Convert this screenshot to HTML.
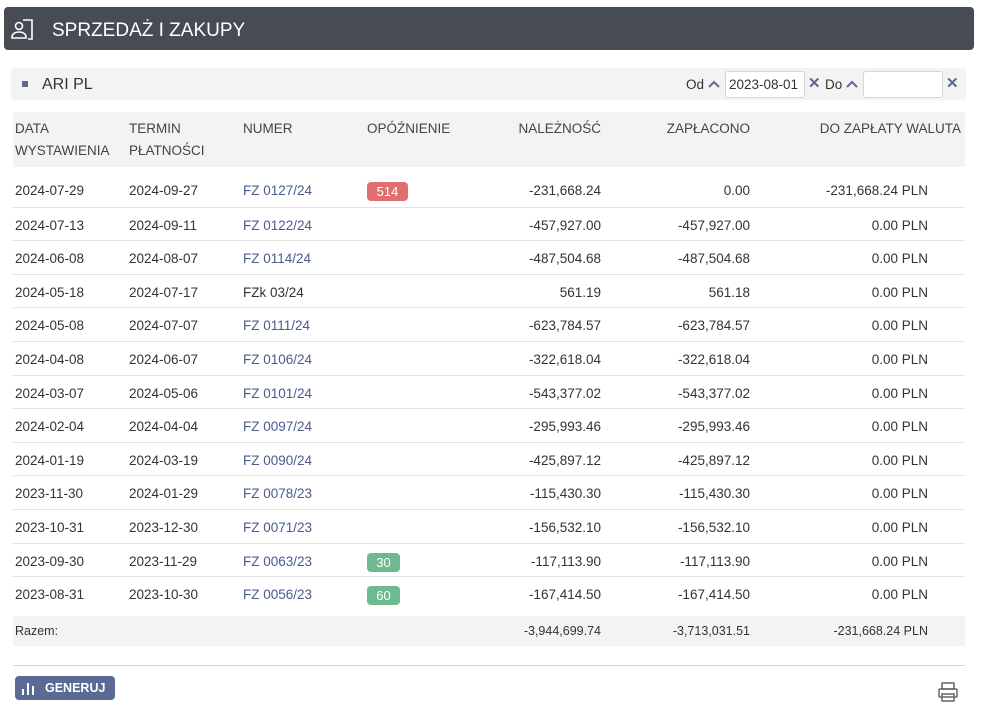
<!DOCTYPE html>
<html><head><meta charset="utf-8"><style>
*{box-sizing:border-box;margin:0;padding:0}
body{width:981px;height:714px;background:#fff;font-family:"Liberation Sans",sans-serif;color:#333;font-size:13.5px;position:relative;overflow:hidden}
.a{position:absolute;white-space:nowrap}
.hdr{left:4px;top:7px;width:970px;height:43px;background:#474b53;border-radius:4px}
.sub{left:11px;top:68px;width:955px;height:32px;background:#f3f3f3;border-radius:4px}
.th{left:13px;top:112px;width:952px;height:55px;background:#f3f3f3}
.row{left:13px;width:952px;height:34px;border-top:1px solid #e3e3e3}
.c{position:absolute;top:1px;line-height:33px}
.r{text-align:right}
.lnk{color:#4a5b8c}
.b{position:absolute;top:9px;height:19px;width:33px;border-radius:4px;color:#fff;text-align:center;line-height:19px;font-size:13px}
.hd{color:#444;font-size:13.5px;line-height:22px}
</style></head><body>
<div class="a hdr"></div>
<svg class="a" style="left:10px;top:18px" width="26" height="24" viewBox="0 0 26 24" fill="none" stroke="#fff" stroke-width="1.6"><circle cx="9" cy="8" r="3.5"/><path d="M2 20v-1c0-3 3-5 7-5s7 2 7 5v1z"/><path d="M13 2h9v19h-4"/></svg>
<div class="a" style="left:52px;top:19px;color:#fff;font-size:19px;line-height:24px">SPRZEDAŻ I ZAKUPY</div>
<div class="a sub"></div>
<div class="a" style="left:22px;top:81px;width:6px;height:6px;background:#5b6a94"></div>
<div class="a" style="left:42px;top:75px;font-size:16px;line-height:20px;color:#333">ARI PL</div>
<div class="a" style="left:686px;top:76px;font-size:13.5px;line-height:18px">Od</div>
<svg class="a" style="left:708px;top:80px" width="12" height="8"><path d="M1 7l5-5 5 5" fill="none" stroke="#5b6a94" stroke-width="2"/></svg>
<div class="a" style="left:725px;top:71px;width:80px;height:27px;border:1px solid #d5d5d5;border-radius:3px;background:#fff;font-size:13.5px;line-height:25px;padding-left:3px">2023-08-01</div>
<div class="a" style="left:808px;top:75px;font-size:15px;line-height:18px;color:#5b6a94;font-weight:bold">✕</div>
<div class="a" style="left:825px;top:76px;font-size:13.5px;line-height:18px">Do</div>
<svg class="a" style="left:846px;top:80px" width="12" height="8"><path d="M1 7l5-5 5 5" fill="none" stroke="#5b6a94" stroke-width="2"/></svg>
<div class="a" style="left:863px;top:71px;width:80px;height:27px;border:1px solid #d5d5d5;border-radius:3px;background:#fff"></div>
<div class="a" style="left:946px;top:75px;font-size:15px;line-height:18px;color:#5b6a94;font-weight:bold">✕</div>
<div class="a th"></div>
<div class="a hd" style="left:15px;top:118px">DATA<br>WYSTAWIENIA</div>
<div class="a hd" style="left:129px;top:118px">TERMIN<br>PŁATNOŚCI</div>
<div class="a hd" style="left:243px;top:118px">NUMER</div>
<div class="a hd" style="left:367px;top:118px">OPÓŹNIENIE</div>
<div class="a hd" style="left:501px;top:118px;width:100px;text-align:right">NALEŻNOŚĆ</div>
<div class="a hd" style="left:650px;top:118px;width:100px;text-align:right">ZAPŁACONO</div>
<div class="a hd" style="left:761px;top:118px;width:200px;text-align:right">DO ZAPŁATY WALUTA</div>
<div id="rows"></div>
<script>
var d=[["2024-07-29","2024-09-27","FZ 0127/24","514","-231,668.24","0.00","-231,668.24 PLN"],
["2024-07-13","2024-09-11","FZ 0122/24","","-457,927.00","-457,927.00","0.00 PLN"],
["2024-06-08","2024-08-07","FZ 0114/24","","-487,504.68","-487,504.68","0.00 PLN"],
["2024-05-18","2024-07-17","FZk 03/24","","561.19","561.18","0.00 PLN"],
["2024-05-08","2024-07-07","FZ 0111/24","","-623,784.57","-623,784.57","0.00 PLN"],
["2024-04-08","2024-06-07","FZ 0106/24","","-322,618.04","-322,618.04","0.00 PLN"],
["2024-03-07","2024-05-06","FZ 0101/24","","-543,377.02","-543,377.02","0.00 PLN"],
["2024-02-04","2024-04-04","FZ 0097/24","","-295,993.46","-295,993.46","0.00 PLN"],
["2024-01-19","2024-03-19","FZ 0090/24","","-425,897.12","-425,897.12","0.00 PLN"],
["2023-11-30","2024-01-29","FZ 0078/23","","-115,430.30","-115,430.30","0.00 PLN"],
["2023-10-31","2023-12-30","FZ 0071/23","","-156,532.10","-156,532.10","0.00 PLN"],
["2023-09-30","2023-11-29","FZ 0063/23","30","-117,113.90","-117,113.90","0.00 PLN"],
["2023-08-31","2023-10-30","FZ 0056/23","60","-167,414.50","-167,414.50","0.00 PLN"]];
var h="";
d.forEach(function(r,i){var t=Math.round(173+33.6*i);
var bd=i==0?"border-top:none;":"";
var w=r[3]=="514"?41:33;
var b=r[3]?'<div class="b" style="left:354px;width:'+w+'px;background:'+(r[3]=="514"?"#e07070":"#6fb98f")+'">'+r[3]+'</div>':"";
var lk=r[2].indexOf("FZk")==0?"":"lnk";
h+='<div class="a row" style="top:'+t+'px;'+bd+'"><div class="c" style="left:2px">'+r[0]+'</div><div class="c" style="left:116px">'+r[1]+'</div><div class="c '+lk+'" style="left:230px">'+r[2]+'</div>'+b+'<div class="c r" style="left:488px;width:100px">'+r[4]+'</div><div class="c r" style="left:637px;width:100px">'+r[5]+'</div><div class="c r" style="left:765px;width:150px">'+r[6]+'</div></div>';});
document.getElementById("rows").innerHTML=h;
</script>
<div class="a" style="left:13px;top:616px;width:952px;height:30px;background:#f3f3f3;font-size:12.5px;line-height:30px">
<span class="a" style="left:2px">Razem:</span>
<span class="a" style="left:488px;width:100px;text-align:right">-3,944,699.74</span>
<span class="a" style="left:637px;width:100px;text-align:right">-3,713,031.51</span>
<span class="a" style="left:765px;width:150px;text-align:right">-231,668.24 PLN</span></div>
<div class="a" style="left:13px;top:665px;width:952px;height:1px;background:#d5d5d5"></div>
<div class="a" style="left:15px;top:676px;width:100px;height:24px;background:#5b6a94;border-radius:4px;color:#fff;font-size:12.5px;font-weight:bold;line-height:24px;padding-left:30px">GENERUJ</div>
<svg class="a" style="left:22px;top:681px" width="14" height="14"><rect x="0" y="8" width="2" height="6" fill="#fff"/><rect x="5" y="2" width="2" height="12" fill="#fff"/><rect x="10" y="5" width="2" height="9" fill="#fff"/></svg>
<svg class="a" style="left:937px;top:681px" width="22" height="22" viewBox="0 0 22 22" fill="none" stroke="#666" stroke-width="1.5"><rect x="5" y="2" width="12" height="6"/><rect x="2" y="8" width="18" height="8" rx="1"/><rect x="5" y="13" width="12" height="7"/></svg>
</body></html>
